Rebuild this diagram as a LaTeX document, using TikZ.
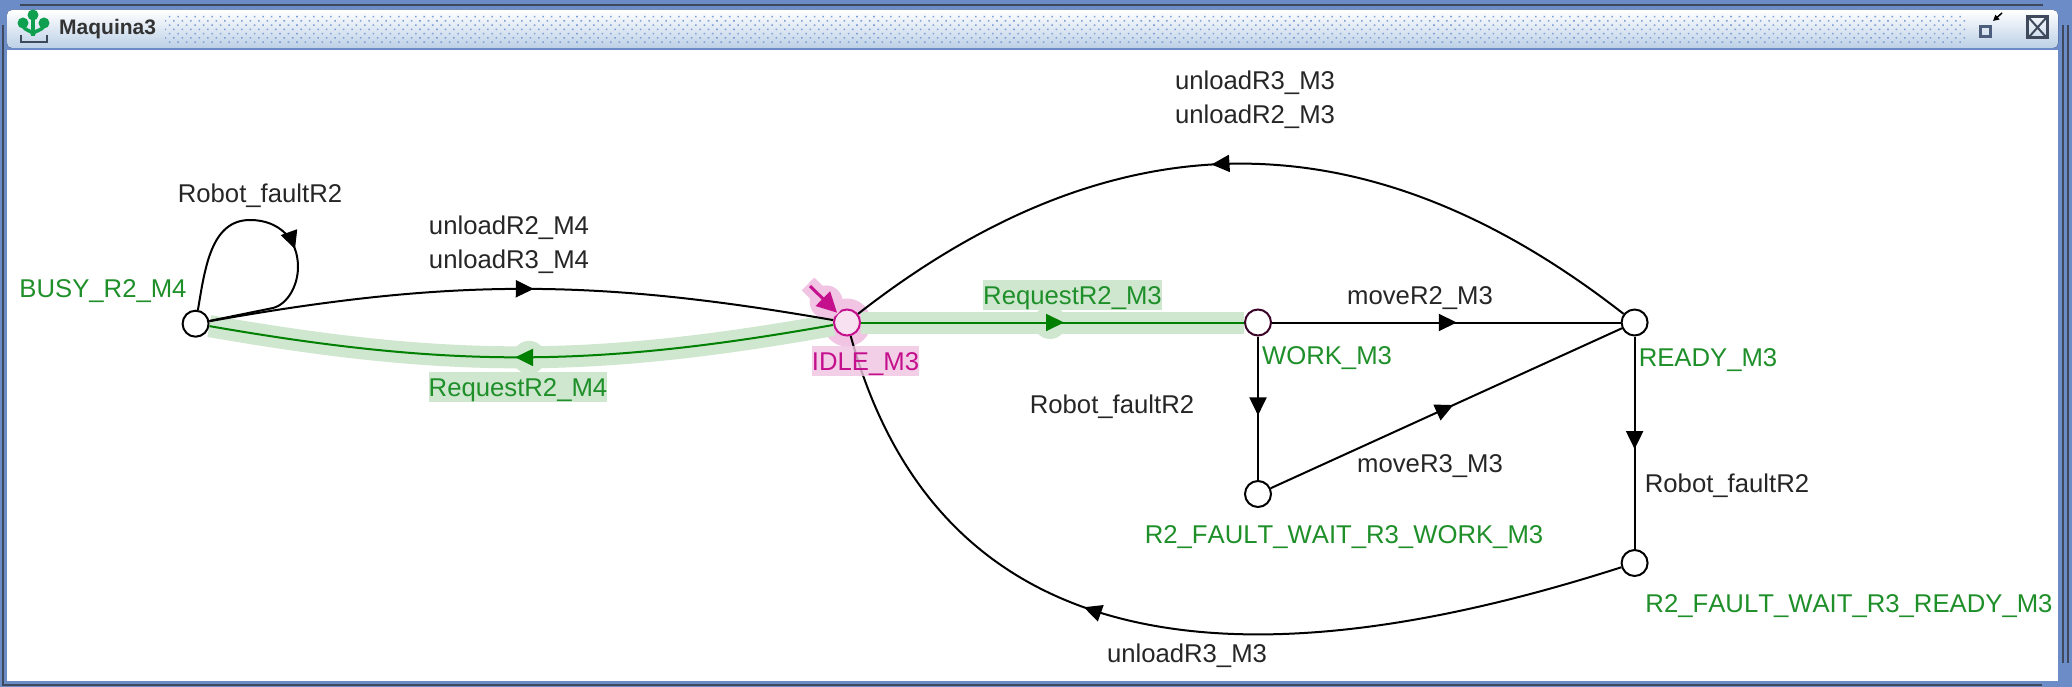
\documentclass[tikz,border=0pt]{standalone}
\usepackage{fontspec}
\setmainfont[Kerning=Off]{Liberation Sans}
\usetikzlibrary{arrows.meta,decorations.markings,patterns.meta}
\definecolor{framecol}{HTML}{6C8CC8}
\definecolor{framedark}{HTML}{3E4A5C}
\definecolor{barcol}{HTML}{BCD0E6}
\definecolor{dotcol}{HTML}{7D9DD8}
\definecolor{iconcol}{HTML}{0FA04F}
\definecolor{eventgreen}{HTML}{008000}
\definecolor{labelgreen}{HTML}{1F8F2A}
\definecolor{halogreen}{HTML}{CFE6CF}
\definecolor{initcol}{HTML}{C4108C}
\definecolor{halopink}{HTML}{F0C4E2}
\tikzset{
    midtip/.style={postaction={decorate,decoration={markings,
        mark=at position #1 with {\arrow{Triangle[length=18pt,width=17pt]}}}}},
    halotip/.style 2 args={postaction={decorate,decoration={markings,
        mark=at position #1 with {\fill[#2] (-14,0) circle (16.5pt);}}}},
    state/.style={shape=circle,draw=black,fill=white,line width=2pt,minimum size=26pt,inner sep=0pt},
    trans/.style={draw=black,line width=2pt,midtip=#1},
    trans/.default=.53,
    event/.style={draw=eventgreen,line width=2pt,midtip=#1},
    event/.default=.53,
    halo/.style={draw=halogreen,line width=22pt,halotip={#1}{halogreen}},
    halo/.default=.51,
    lbl/.style={font=\fontsize{25.7}{30}\selectfont,inner sep=0pt,text height=24pt,text depth=6pt,text=black!85},
    statelbl/.style={lbl,text=labelgreen},
    eventlbl/.style={lbl,text=labelgreen,fill=halogreen},
}
\begin{document}
\begin{tikzpicture}[x=1pt,y=-1pt]
    \useasboundingbox (0,0) rectangle (2072,687);
    % window frame
    \fill[framecol] (0,0) rectangle (2072,687);
    \fill[white] (7,50) rectangle (2058,681);
    \draw[framedark,line width=2pt] (20,5) -- (2043,5);
    \draw[framedark,line width=2pt] (2.5,25) -- (2.5,685) -- (2042,685);
    \draw[framedark,line width=2pt] (2063,25) -- (2063,663);
    \draw[framedark,line width=2pt] (2068,25) -- (2068,663);
    % title bar
    \fill[rounded corners=5pt,top color=white,bottom color=barcol] (7,10) rectangle (2058,48);
    \fill[pattern={Dots[radius=1.1pt,distance=6pt,angle=45]},pattern color=dotcol] (165,16) rectangle (1967,43);
    \node[font=\fontsize{21}{25}\selectfont\bfseries,text=black!80,anchor=west,inner sep=0pt] (TITLE) at (59,29) {Maquina3};
    % title icon
    \draw[framedark,line width=2.5pt] (21,35) -- (21,42) -- (47,42) -- (47,35);
    \draw[iconcol,line width=4.5pt] (33,14) -- (33,36);
    \draw[iconcol,line width=3.5pt] (23,24) .. controls (24,33) and (33,29) .. (33,35);
    \draw[iconcol,line width=3.5pt] (44,24) .. controls (43,33) and (33,29) .. (33,35);
    \fill[iconcol] (33,15) circle (5.5pt) (23,23) circle (5.5pt) (44,23) circle (5.5pt);
    % window buttons
    \draw[framedark!70!framecol,line width=3pt] (1980.5,26.5) rectangle (1990.5,36.5);
    \draw[black,line width=1.5pt,-{Triangle[length=6pt,width=6pt]}] (2002,13) -- (1993,21);
    \draw[framedark,line width=3pt] (2027.5,16.5) rectangle (2047.5,38);
    \draw[framedark,line width=2pt] (2029,18) -- (2046,37) (2046,18) -- (2029,37);

    \node[shape=circle,fill=halopink,minimum size=48pt,inner sep=0pt] (IDLEHALO) at (847,322.5) {};

    % states
    \node[state] (BUSY) at (195.6,323.7) {};
    \node[state,draw=initcol,fill=initcol!12] (IDLE) at (847,322.5) {};
    \node[state,draw=black!70!initcol] (WORK) at (1258,322.5) {};
    \node[state] (READY) at (1634.6,322.5) {};
    \node[state] (FAULTWORK) at (1258,494) {};
    \node[state] (FAULTREADY) at (1634.6,563) {};
    \coordinate (INIT) at (810,286);
    \coordinate (INITHALO) at (808,284);

    % highlighted path
    \path (IDLE) edge[halo,bend left=10] (BUSY);
    \path (IDLE) edge[halo=.53] (WORK);
    \draw[halopink,line width=18pt,halotip={.97}{halopink}] (INITHALO) -- (IDLE);

    % transitions
    \draw[trans=.56] (BUSY) .. controls (205,268) and (211,220) .. (250,220) .. controls (280,220) and (298,240) .. (298,267) .. controls (298,285) and (288,304) .. (273,308) -- (BUSY);
    \path (BUSY) edge[trans=.52,bend left=10] (IDLE);
    \path (IDLE) edge[event=.51,bend left=10] (BUSY);
    \path (IDLE) edge[event] (WORK);
    \path (WORK) edge[trans] (READY);
    \path (WORK) edge[trans=.55] (FAULTWORK);
    \path (FAULTWORK) edge[trans=.52] (READY);
    \path (READY) edge[trans] (FAULTREADY);
    \path (READY) edge[trans=.535,bend right=38,looseness=1.09] (IDLE);
    \draw[trans=.595] (FAULTREADY) .. controls (1270,680) and (945,680) .. (IDLE);
    \draw[initcol,line width=3pt,-{Triangle[length=20pt,width=20pt]}] (INIT) -- (IDLE);

    % labels
    \node[lbl] (L1) at (260,194) {Robot\_faultR2};
    \node[lbl] (L2) at (509,225) {unloadR2\_M4};
    \node[lbl] (L3) at (509,259) {unloadR3\_M4};
    \node[statelbl] (L4) at (103,288) {BUSY\_R2\_M4};
    \node[eventlbl] (L5) at (518,387) {RequestR2\_M4};
    \node[lbl,fill=halopink,fill opacity=.8,text opacity=1,text=initcol] (L6) at (865.5,361) {IDLE\_M3};
    \node[eventlbl] (L7) at (1072.5,295) {RequestR2\_M3};
    \node[lbl] (L8) at (1420,295) {moveR2\_M3};
    \node[statelbl] (L9) at (1327,355) {WORK\_M3};
    \node[statelbl] (L10) at (1708,357) {READY\_M3};
    \node[lbl] (L11) at (1112,404) {Robot\_faultR2};
    \node[lbl] (L12) at (1430,463) {moveR3\_M3};
    \node[statelbl] (L13) at (1344,534) {R2\_FAULT\_WAIT\_R3\_WORK\_M3};
    \node[lbl] (L14) at (1727,483) {Robot\_faultR2};
    \node[statelbl] (L15) at (1849,603) {R2\_FAULT\_WAIT\_R3\_READY\_M3};
    \node[lbl] (L16) at (1187,653) {unloadR3\_M3};
    \node[lbl] (L17) at (1255,81) {unloadR3\_M3};
    \node[lbl] (L18) at (1255,115) {unloadR2\_M3};
\end{tikzpicture}
\end{document}
